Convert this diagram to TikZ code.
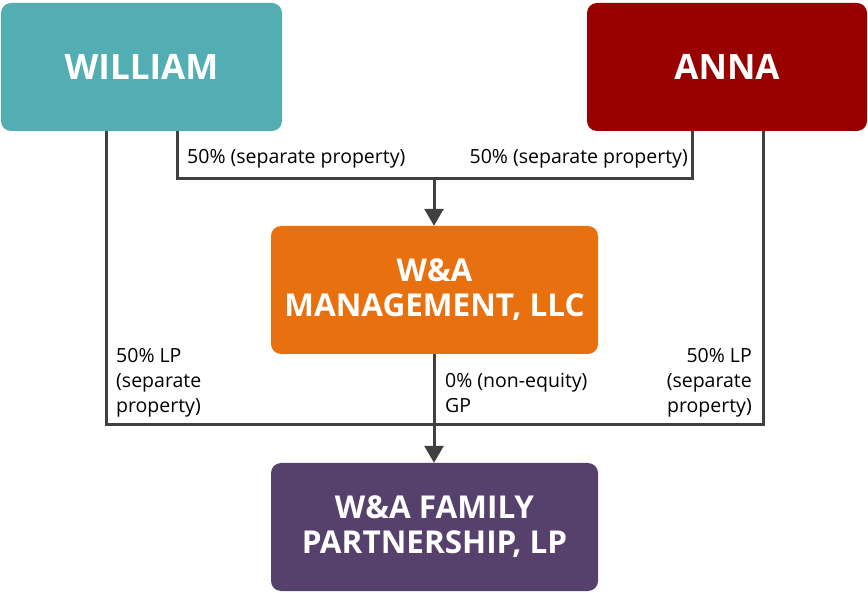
\documentclass[tikz,border=0pt]{standalone}
\usepackage{fontspec}
\setmainfont{Open Sans}
\usetikzlibrary{arrows.meta}
\definecolor{teal1}{HTML}{52AEB3}
\definecolor{red1}{HTML}{990000}
\definecolor{orange1}{HTML}{E8700F}
\definecolor{purple1}{HTML}{55416B}
\definecolor{line1}{HTML}{404040}
\tikzset{
  entity/.style={rounded corners=10pt, minimum width=#1, minimum height=128pt, inner sep=0pt, text=white, align=center},
  big/.style={font=\fontsize{35}{35}\selectfont\bfseries},
  twoline/.style={font=\fontsize{31.5}{35}\selectfont\bfseries},
  conn/.style={draw=line1, line width=3pt},
  arr/.style={conn, -{Triangle[length=17pt,width=19pt]}},
  lbl/.style={font=\fontsize{19.5}{25}\selectfont, text=black, inner sep=0pt},
}
\begin{document}
\begin{tikzpicture}[x=1pt,y=-1pt]
\useasboundingbox (0,0) rectangle (868,593);
\node[entity=281pt, big, fill=teal1] (will) at (141.5,67) {WILLIAM};
\node[entity=280pt, big, fill=red1] (anna) at (727,67) {ANNA};
\node[entity=327pt, twoline, fill=orange1] (mgmt) at (434.5,290) {W\&A\\MANAGEMENT, LLC};
\node[entity=327pt, twoline, fill=purple1] (fam) at (434.5,527) {W\&A FAMILY\\PARTNERSHIP, LP};
\coordinate (j1) at (434,179);
\coordinate (j2) at (434,425);
% upper 50% lines
\draw[conn] (will.south -| 177,0) |- (j1);
\draw[conn] (anna.south -| 692,0) |- (j1);
\draw[arr] (j1) -- (mgmt.north -| j1);
% LP lines
\draw[conn] (will.south -| 106,0) |- (j2);
\draw[conn] (anna.south -| 763,0) |- (j2);
\draw[conn] (mgmt.south -| j2) -- (j2);
\draw[arr] (j2) -- (fam.north -| j2);
% labels
\node[lbl, anchor=west] (l1) at (187,159) {50\% (separate property)};
\node[lbl, anchor=east] (l2) at (688,159) {50\% (separate property)};
\node[lbl, anchor=north west, align=left] (l3) at (116,348) {50\% LP\\(separate\\property)};
\node[lbl, anchor=north east, align=right] (l4) at (752,348) {50\% LP\\(separate\\property)};
\node[lbl, anchor=north west, align=left] (l5) at (445,373) {0\% (non-equity)\\GP};
\end{tikzpicture}
\end{document}
